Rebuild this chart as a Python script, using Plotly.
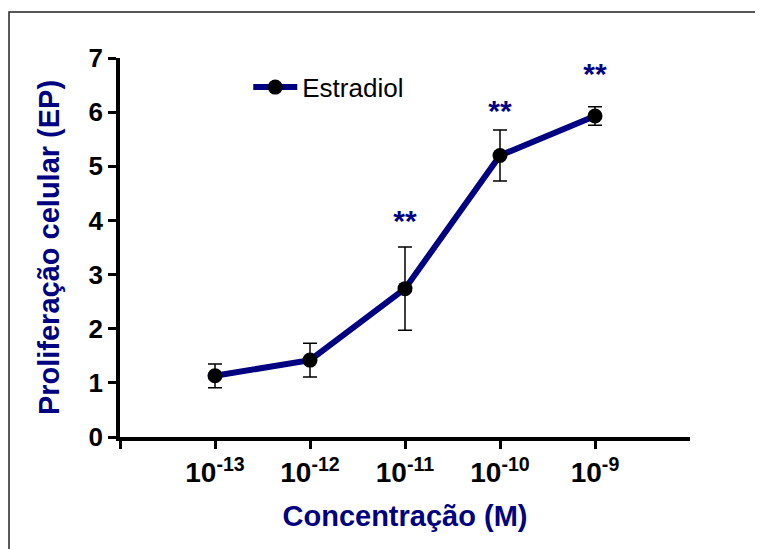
import plotly.graph_objects as go

categories = ["10<sup>-13</sup>", "10<sup>-12</sup>", "10<sup>-11</sup>", "10<sup>-10</sup>", "10<sup>-9</sup>"]
means = [1.13, 1.42, 2.74, 5.20, 5.93]
errors = [0.22, 0.31, 0.77, 0.47, 0.17]
star_labels = ["", "", "**", "**", "**"]
star_y = [None, None, 3.95, 5.98, 6.65]

x_idx = list(range(len(categories)))
NAVY = "#000080"
FONT = "Liberation Sans, Arial, sans-serif"

fig = go.Figure()
fig.add_trace(go.Scatter(
    x=x_idx, y=means, name="Estradiol", mode="lines+markers",
    line=dict(color=NAVY, width=6),
    marker=dict(color="black", size=15),
    error_y=dict(type="data", array=errors, visible=True, color="black", thickness=1.5, width=7),
    cliponaxis=False,
))
sx = [x for x, s in zip(x_idx, star_labels) if s]
sy = [y for y, s in zip(star_y, star_labels) if s]
st = [f"<b>{s}</b>" for s in star_labels if s]
fig.add_trace(go.Scatter(
    x=sx, y=sy, text=st, mode="text", showlegend=False,
    textfont=dict(color=NAVY, size=30, family=FONT), cliponaxis=False,
))

fig.update_layout(
    width=763, height=549,
    margin=dict(l=112, r=81, t=50, b=120),
    paper_bgcolor="white", plot_bgcolor="white",
    font=dict(family=FONT, color="black"),
    showlegend=True,
    legend=dict(x=0.225, y=0.985, xanchor="left", yanchor="top",
                font=dict(size=26, color="black", family=FONT),
                itemwidth=44,
                bgcolor="rgba(0,0,0,0)"),
    xaxis=dict(
        range=[-1, 5], tickmode="array", tickvals=[-1] + x_idx,
        ticktext=[""] + [f"<b>{c}</b>" for c in categories],
        showgrid=False, zeroline=False, showline=True, linecolor="black", linewidth=3.5,
        ticks="outside", ticklen=8, tickwidth=3, tickcolor="black",
        tickfont=dict(size=28, family=FONT, color="black"),
        title=dict(text="<b>Concentração (M)</b>", font=dict(size=29, color=NAVY, family=FONT), standoff=19),
    ),
    yaxis=dict(
        range=[0, 7], tickmode="array", tickvals=list(range(8)),
        ticktext=[f"<b>{v}</b>" for v in range(8)],
        showgrid=False, zeroline=False, showline=True, linecolor="black", linewidth=3.5,
        ticks="outside", ticklen=8, tickwidth=3, tickcolor="black",
        tickfont=dict(size=26, family=FONT, color="black"),
        title=dict(text="<b>Proliferação celular (EP)</b>", font=dict(size=29, color=NAVY, family=FONT), standoff=21),
    ),
    shapes=[dict(type="rect", xref="paper", yref="paper",
                 x0=-0.1947, x1=1.6, y0=-1.0, y1=1.1214,
                 line=dict(color="#222", width=1.5), layer="below")],
)

fig.write_html("out.html")
